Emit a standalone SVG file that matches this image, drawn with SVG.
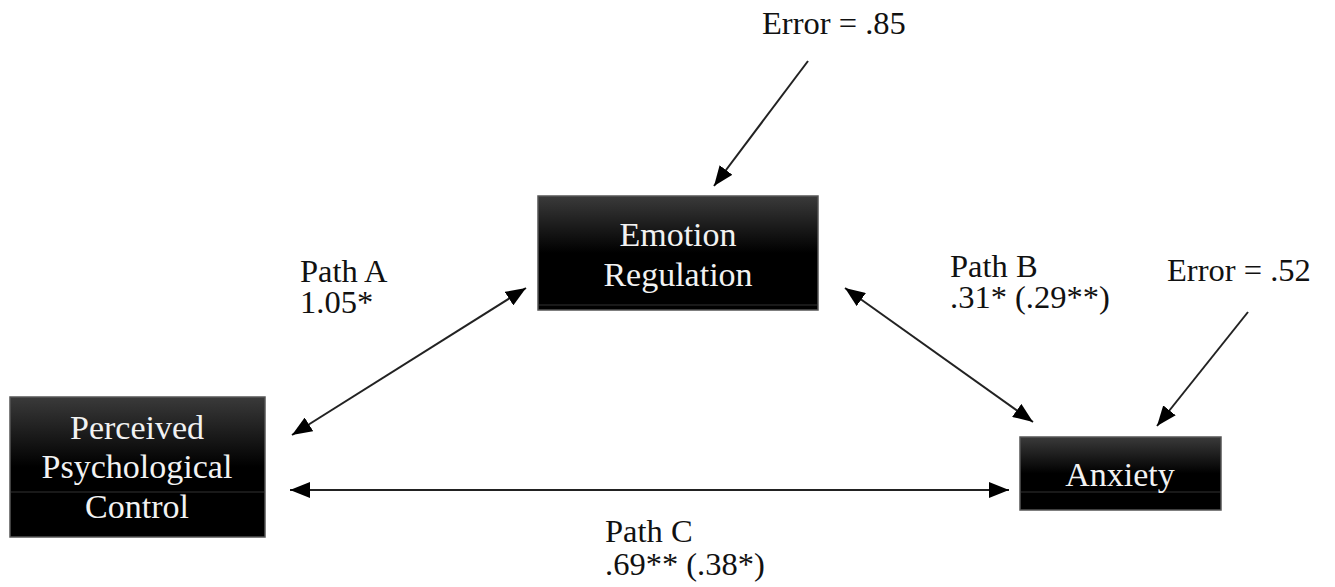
<svg xmlns="http://www.w3.org/2000/svg" width="1335" height="587" viewBox="0 0 1335 587">
<style>
.lbl{font-family:"Liberation Serif","Times New Roman",serif;font-size:32.5px;fill:#111}
.ntxt{font-family:"Liberation Serif","Times New Roman",serif;font-size:34px;fill:#f2f2f2;text-anchor:middle}
.box{fill:url(#g);stroke:#555;stroke-width:1.5}
.sep{stroke:#333;stroke-width:1}
.conn{stroke:#222;stroke-width:2;fill:none}
</style>
<defs>
<linearGradient id="g" x1="0" y1="0" x2="0" y2="1">
<stop offset="0" stop-color="#3a3a3a"/>
<stop offset="0.5" stop-color="#000"/>
<stop offset="1" stop-color="#000"/>
</linearGradient>
<marker id="a" viewBox="0 0 20 16" refX="20" refY="8" markerWidth="20" markerHeight="16" markerUnits="userSpaceOnUse" orient="auto-start-reverse">
<path d="M0,0 L20,8 L0,16 z" fill="#000"/>
</marker>
</defs>
<rect width="1335" height="587" fill="#fff"/>
<g id="connectors">
<line class="conn" x1="292" y1="435" x2="526" y2="288" marker-start="url(#a)" marker-end="url(#a)"/>
<line class="conn" x1="845" y1="288" x2="1033" y2="422" marker-start="url(#a)" marker-end="url(#a)"/>
<line class="conn" x1="290" y1="490" x2="1009" y2="490" marker-start="url(#a)" marker-end="url(#a)"/>
<line class="conn" x1="808" y1="61" x2="714" y2="186" marker-end="url(#a)"/>
<line class="conn" x1="1248" y1="312" x2="1157" y2="426" marker-end="url(#a)"/>
</g>
<g id="node-emotion">
<rect class="box" x="538" y="196" width="280" height="114"/>
<line class="sep" x1="539" y1="305" x2="817" y2="305"/>
<text class="ntxt" x="678" y="246">Emotion</text>
<text class="ntxt" x="678" y="286">Regulation</text>
</g>
<g id="node-ppc">
<rect class="box" x="10" y="397" width="255" height="140"/>
<line class="sep" x1="11" y1="492" x2="264" y2="492"/>
<text class="ntxt" x="137" y="439">Perceived</text>
<text class="ntxt" x="137" y="478">Psychological</text>
<text class="ntxt" x="137" y="518">Control</text>
</g>
<g id="node-anxiety">
<rect class="box" x="1020" y="437" width="201" height="73"/>
<line class="sep" x1="1021" y1="492" x2="1220" y2="492"/>
<text class="ntxt" x="1120" y="486">Anxiety</text>
</g>
<g id="labels">
<text class="lbl" x="762" y="34">Error = .85</text>
<text class="lbl" x="1167" y="281">Error = .52</text>
<text class="lbl" x="300" y="282">Path A</text>
<text class="lbl" x="300" y="313">1.05*</text>
<text class="lbl" x="950" y="277">Path B</text>
<text class="lbl" x="950" y="308">.31* (.29**)</text>
<text class="lbl" x="605" y="542">Path C</text>
<text class="lbl" x="605" y="575">.69** (.38*)</text>
</g>
</svg>
